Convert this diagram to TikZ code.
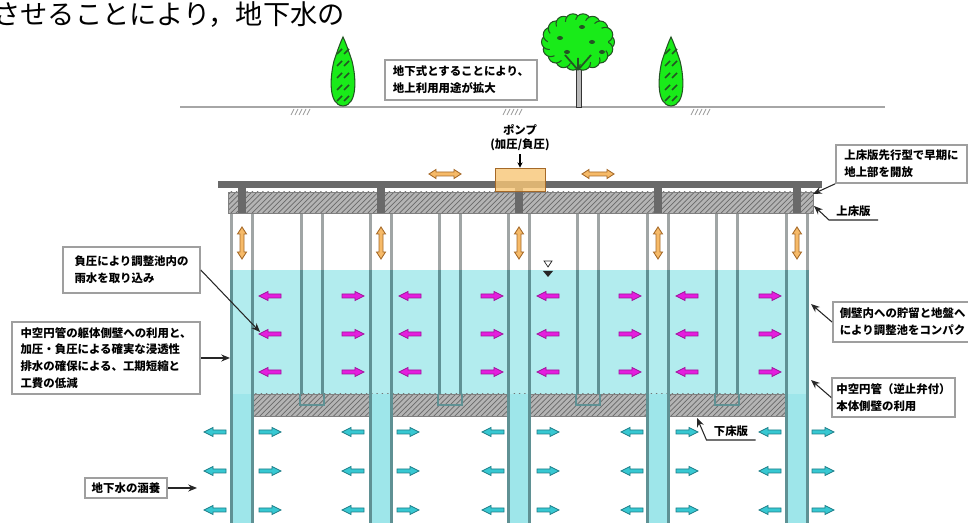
\documentclass[tikz,border=0pt]{standalone}
\usepackage{fontspec}
\newfontfamily\jp{Noto Sans CJK JP}
\usetikzlibrary{arrows.meta,patterns}

\definecolor{water}{RGB}{178,236,238}
\definecolor{pilecyan}{RGB}{158,230,234}
\definecolor{wallgray}{RGB}{160,165,165}
\definecolor{wallteal}{RGB}{95,145,148}
\definecolor{slabgray}{RGB}{180,180,180}
\definecolor{hatchgray}{RGB}{105,105,105}
\definecolor{deckgray}{RGB}{105,105,105}
\definecolor{seepfill}{RGB}{55,200,210}
\definecolor{seepedge}{RGB}{30,125,135}
\definecolor{intakefill}{RGB}{228,30,222}
\definecolor{airfill}{RGB}{246,186,104}
\definecolor{airedge}{RGB}{165,105,40}
\definecolor{pumpfill}{RGB}{248,198,118}
\definecolor{leafgreen}{RGB}{25,235,25}
\definecolor{leafedge}{RGB}{35,85,35}

\tikzset{
  % one-way block arrow, pointing to +x
  flow/.pic={\path[#1] (-11,-2) -- (2,-2) -- (2,-4.5) -- (11,0) -- (2,4.5) -- (2,2) -- (-11,2) -- cycle;},
  % two-way block arrow along x
  twoway/.pic={\path[#1] (-16,0) -- (-9,-4.5) -- (-9,-2) -- (9,-2) -- (9,-4.5) -- (16,0)
      -- (9,4.5) -- (9,2) -- (-9,2) -- (-9,4.5) -- cycle;},
  conifer/.pic={
    \path[fill=leafgreen, draw=leafedge, line width=0.6pt] (0,-1) .. controls (-15,-2) and (-13,-30) .. (-9,-46)
      .. controls (-5,-58) and (-2,-66) .. (0,-70) .. controls (2,-66) and (5,-58) .. (9,-46)
      .. controls (13,-30) and (15,-2) .. (0,-1) -- cycle;
    \foreach \k in {-56,-44,-32,-20,-9}
      \draw[leafedge, line width=0.9pt] (-6,\k+3) -- (-1,\k-2) (1,\k+3) -- (6,\k-2);
  },
}

\begin{document}
\begin{tikzpicture}[x=0.02cm, y=-0.02cm,
    note/.style={draw=gray!75, line width=0.9pt, fill=white, align=left, inner sep=2pt,
      font=\jp\bfseries\fontsize{6.5}{9.6}\selectfont},
    tag/.style={inner xsep=4pt, inner ysep=1.5pt, font=\jp\bfseries\fontsize{6.5}{8}\selectfont},
    pointer/.style={draw=black!85, line width=0.6pt, -{Stealth[length=5pt,width=4pt]}},
    slab/.style={draw=gray, line width=0.5pt, preaction={fill=slabgray}, pattern=north east lines, pattern color=hatchgray},
    seep/.style={fill=seepfill, draw=seepedge, line width=0.5pt},
    intake/.style={fill=intakefill, draw=intakefill!70!black, line width=0.4pt},
    air/.style={fill=airfill, draw=airedge, line width=0.5pt},
  ]
  \useasboundingbox (0,0) rectangle (968,523);

  \node[anchor=base west, inner sep=0, font=\jp\fontsize{15.5}{18}\selectfont] (lead) at (-7,25) {させることにより，地下水の};

  % ground and trees
  \draw[gray!70, line width=1pt] (180,107) -- (885,107);
  \foreach \gx in {300,512,700}
    \foreach \k in {0,...,4}
      \draw[gray!80, line width=0.5pt] (\gx-9+\k*4,115) -- (\gx-6+\k*4,109);
  \pic at (343,107) {conifer};
  \pic at (671,107) {conifer};
  \filldraw[fill=gray!55, draw=gray!40!black, line width=0.4pt] (576,60) rectangle (581,107);
  \foreach \a in {0,20,...,340}
    \filldraw[fill=leafgreen, draw=leafedge, line width=0.6pt] ({578+29*cos(\a)},{42+21*sin(\a)}) circle (7.5);
  \fill[leafgreen] (578,42) ellipse [x radius=30, y radius=22];
  \draw[leafedge, line width=1pt] (578,70) -- (565,55) (578,70) -- (591,55) (578,70) -- (578,58);
  \foreach \dx/\dy in {582/27,560/38,592/42,567/52,602/52}
    \fill[leafedge] (\dx,\dy) ellipse [x radius=3, y radius=2];

  \node[note, minimum width=3.04cm, minimum height=0.8cm] (use) at (461,80)
    {地下式とすることにより、\\地上利用用途が拡大};

  % basin water and piles
  \fill[water] (232,270) rectangle (807,394);
  \path[slab] (253,394) rectangle (787,416);
  \foreach \cx in {242,381,519,658,797}
    \fill[pilecyan] (\cx-10.5,394) rectangle (\cx+10.5,523);
  \foreach \cx in {312,450,588,727}
    \draw[wallteal, line width=0.8pt] (\cx-12,394) -- (\cx-12,405) -- (\cx+12,405) -- (\cx+12,394);
  \foreach \cx in {242,381,519,658,797} {
    \draw[wallgray, line width=1.5pt] (\cx-10.5,213) -- (\cx-10.5,270) (\cx+10.5,213) -- (\cx+10.5,270);
    \draw[wallteal, line width=1.5pt] (\cx-10.5,270) -- (\cx-10.5,523) (\cx+10.5,270) -- (\cx+10.5,523);
  }
  \foreach \cx in {312,450,588,727} {
    \draw[wallgray, line width=1.5pt] (\cx-10.5,213) -- (\cx-10.5,270) (\cx+10.5,213) -- (\cx+10.5,270);
    \draw[wallteal, line width=1.5pt] (\cx-10.5,270) -- (\cx-10.5,394) (\cx+10.5,270) -- (\cx+10.5,394);
  }

  % upper slab, deck and pump
  \path[slab] (228,192) rectangle (813,213);
  \foreach \cx in {242,381,519,658,797}
    \fill[deckgray] (\cx-4,184) rectangle (\cx+4,213);
  \fill[deckgray] (218,181) rectangle (822,188);
  \node[draw=airedge, fill=pumpfill, fill opacity=0.8, line width=0.5pt, inner sep=0,
    minimum width=1cm, minimum height=0.46cm] (pump) at (520,179.5) {};
  \node[tag, align=center, font=\jp\bfseries\itshape\fontsize{6.5}{8}\selectfont] (pumplbl) at (520,138) {ポンプ\\(加圧/負圧)};
  \draw[black, line width=0.6pt, -{Stealth[length=3pt,width=3pt]}] (pumplbl.south) -- (pump.north);

  % water level
  \draw[gray!30!black, line width=0.4pt] (544,261) -- (552,261) -- (548,267) -- cycle;
  \fill[gray!30!black] (543,271) -- (553,271) -- (548,277) -- cycle;

  % air, intake and seepage arrows
  \foreach \cx in {242,381,519,658,797}
    \pic[rotate=90] at (\cx,243) {twoway=air};
  \pic at (445,174) {twoway=air};
  \pic at (598,174) {twoway=air};
  \foreach \ax/\dir in {270/180,353/0,410/180,492/0,548/180,630/0,687/180,770/0}
    \foreach \ay in {296,334,372}
      \pic[rotate=\dir] at (\ax,\ay) {flow=intake};
  \foreach \ax/\dir in {215/180,270/0,353/180,408/0,493/180,548/0,632/180,687/0,770/180,823/0}
    \foreach \ay in {432,471,510}
      \pic[rotate=\dir] at (\ax,\ay) {flow=seep};

  % notes
  \node[note, minimum width=2.62cm, minimum height=0.76cm] (open) at (901.5,164)
    {上床版先行型で早期に\\地上部を開放};
  \node[tag, anchor=south] (uslab) at (853.5,220) {上床版};
  \node[note, minimum width=2.74cm, minimum height=0.92cm] (rain) at (131.5,270)
    {負圧により調整池内の\\雨水を取り込み};
  \node[note, minimum width=3.76cm, minimum height=1.44cm] (hollow) at (106,358)
    {中空円管の躯体側壁への利用と、\\加圧・負圧による確実な浸透性\\排水の確保による、工期短縮と\\工費の低減};
  \node[note, anchor=west, text width=3.3cm, minimum height=0.8cm, inner xsep=4pt] (store) at (832,322)
    {側壁内への貯留と地盤へ\\により調整池をコンパク};
  \node[note, minimum width=2.46cm, minimum height=0.78cm] (valve) at (893.5,397.5)
    {中空円管（逆止弁付）\\本体側壁の利用};
  \node[tag, anchor=south] (lslab) at (731,440) {下床版};
  \node[note, minimum width=1.64cm, minimum height=0.4cm] (recharge) at (126,488) {地下水の涵養};

  \coordinate (deck_tip) at (813,194);
  \coordinate (uslab_tip) at (814,206);
  \coordinate (rain_tip) at (260,332);
  \coordinate (hollow_tip) at (230,358);
  \coordinate (store_tip) at (811,304);
  \coordinate (valve_tip) at (811,380);
  \coordinate (lslab_tip) at (697,418);
  \coordinate (recharge_tip) at (197,488);

  \draw[pointer] (open.south west) -- (deck_tip);
  \draw[pointer] (uslab.south east) -- (uslab.south west) -- (uslab_tip);
  \draw[pointer] (rain.east) -- (rain_tip);
  \draw[pointer] (hollow.east) -- (hollow_tip);
  \draw[pointer] (store.west) -- (store_tip);
  \draw[pointer] (valve.west) -- (valve_tip);
  \draw[pointer] (lslab.south east) -- (lslab.south west) -- (lslab_tip);
  \draw[pointer] (recharge.east) -- (recharge_tip);
\end{tikzpicture}
\end{document}
